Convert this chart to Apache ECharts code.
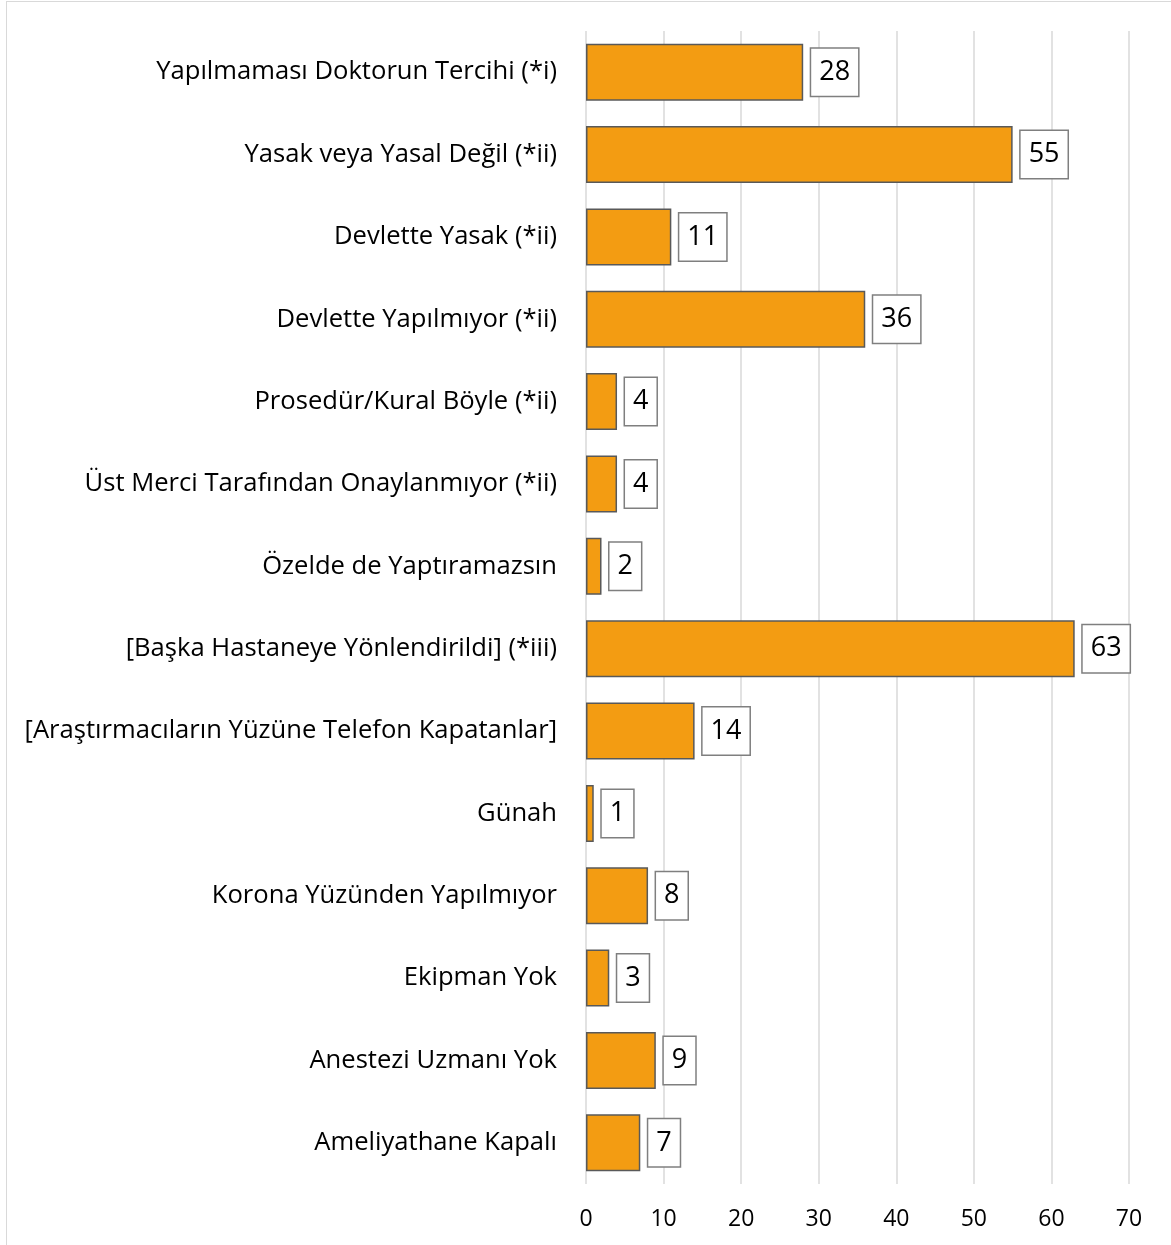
<!DOCTYPE html>
<html>
<head>
<meta charset="utf-8">
<script src="https://cdn.jsdelivr.net/npm/echarts@6/dist/echarts.min.js"></script>
<style>
  html, body { margin: 0; padding: 0; background: #fff; }
  #frame { position: absolute; left: 6px; top: 1px; width: 1170px; height: 1250px; border: 1.5px solid #d9d9d9; box-sizing: border-box; }
  #main { position: absolute; left: 0; top: 0; width: 1171px; height: 1245px; }
</style>
</head>
<body>
<div id="frame"></div>
<div id="main"></div>
<script>
var categories = [
  'Yapılmaması Doktorun Tercihi (*i)',
  'Yasak veya Yasal Değil (*ii)',
  'Devlette Yasak (*ii)',
  'Devlette Yapılmıyor (*ii)',
  'Prosedür/Kural Böyle (*ii)',
  'Üst Merci Tarafından Onaylanmıyor (*ii)',
  'Özelde de Yaptıramazsın',
  '[Başka Hastaneye Yönlendirildi] (*iii)',
  '[Araştırmacıların Yüzüne Telefon Kapatanlar]',
  'Günah',
  'Korona Yüzünden Yapılmıyor',
  'Ekipman Yok',
  'Anestezi Uzmanı Yok',
  'Ameliyathane Kapalı'
];
var counts = [28, 55, 11, 36, 4, 4, 2, 63, 14, 1, 8, 3, 9, 7];

var font = '"Open Sans", "Noto Sans", sans-serif';

var chart = echarts.init(document.getElementById('main'));

var option = {
  animation: false,
  grid: {
    left: 586,
    right: 42,
    top: 31,
    bottom: 61,
    containLabel: false,
    outerBoundsMode: 'none'
  },
  xAxis: {
    type: 'value',
    min: 0,
    max: 70,
    interval: 10,
    axisLine: { show: false },
    axisTick: { show: false },
    axisLabel: { fontFamily: font, fontSize: 23, color: '#000', margin: 24 },
    splitLine: { lineStyle: { color: '#d9d9d9', width: 1.5 } }
  },
  yAxis: {
    type: 'category',
    inverse: true,
    data: categories,
    axisLine: { show: false },
    axisTick: { show: false },
    axisLabel: { fontFamily: font, fontSize: 25.6, color: '#000', margin: 29 }
  },
  series: [{
    type: 'bar',
    data: counts,
    barWidth: 57,
    itemStyle: { color: '#f39c12', borderColor: '#595959', borderWidth: 1.5 },
    label: {
      show: true,
      position: 'right',
      distance: 8,
      fontFamily: font,
      fontSize: 27,
      lineHeight: 27,
      color: '#000',
      backgroundColor: '#fff',
      borderColor: '#7f7f7f',
      borderWidth: 1.5,
      padding: [11, 8, 9, 8]
    }
  }]
};

chart.setOption(option);
</script>
</body>
</html>
